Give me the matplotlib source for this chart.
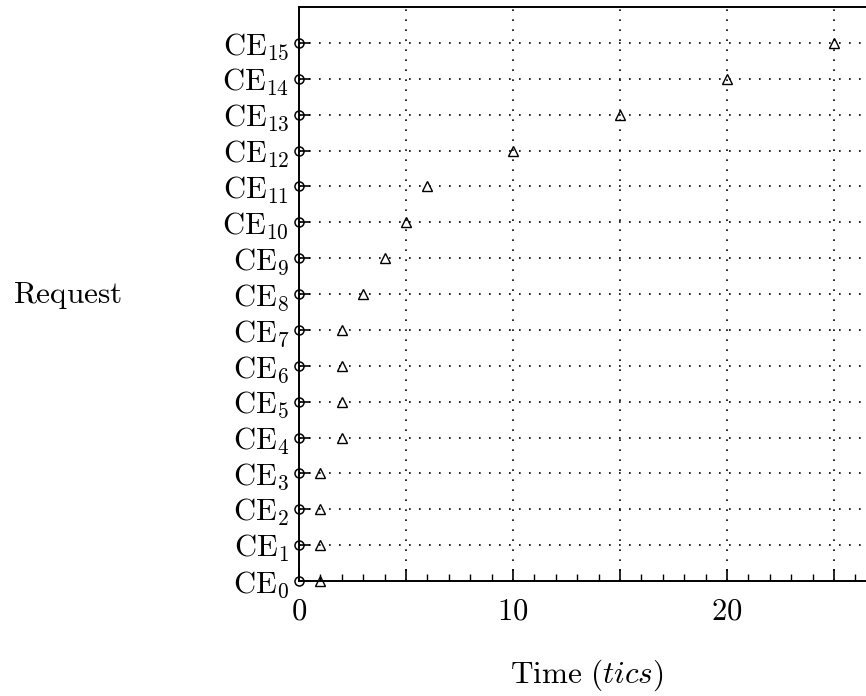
import matplotlib
matplotlib.use('Agg')
import matplotlib.pyplot as plt
from matplotlib.ticker import MultipleLocator, FuncFormatter

plt.rcParams['mathtext.fontset'] = 'cm'

# データ
requests = list(range(16))
request_labels = [r'$\mathrm{CE}_{%d}$' % i for i in requests]
start_time = [0] * 16
finish_time = [1, 1, 1, 1, 2, 2, 2, 2, 3, 4, 5, 6, 10, 15, 20, 25]
x_labels = [0, 10, 20]

fig = plt.figure(figsize=(8.66, 6.96), dpi=100)
# 右側は図の外にはみ出す（元の図は右端で切れている）
ax = fig.add_axes([299 / 866, 115 / 696, 642 / 866, 574 / 696])

ax.plot(start_time, requests, linestyle='none', marker='o', markersize=6.5,
        markerfacecolor='none', markeredgecolor='black', markeredgewidth=1.1,
        clip_on=False, zorder=5)
ax.plot(finish_time, requests, linestyle='none', marker='^', markersize=6.5,
        markerfacecolor='none', markeredgecolor='black', markeredgewidth=1.0,
        clip_on=False, zorder=5)

ax.set_xlim(0, 30)
ax.set_ylim(0, 16)

# x軸の目盛り
ax.xaxis.set_major_locator(MultipleLocator(5))
ax.xaxis.set_minor_locator(MultipleLocator(1))
ax.xaxis.set_major_formatter(
    FuncFormatter(lambda v, p: r'$%d$' % v if int(round(v)) in x_labels else ''))
# y軸の目盛り
ax.set_yticks(requests)
ax.set_yticklabels(request_labels)

ax.tick_params(axis='x', which='major', direction='in', length=9, width=1.2,
               labelsize=22, pad=11, top=False)
ax.tick_params(axis='x', which='minor', direction='in', length=5, width=1.0,
               top=False)
ax.tick_params(axis='y', which='major', direction='in', length=8, width=1.2,
               labelsize=22, pad=7, right=False)

ax.grid(True, which='major', color='black', linestyle=(0, (1, 5)), linewidth=1.2)
for s in ax.spines.values():
    s.set_linewidth(1.4)

fig.text(68 / 866, 1 - 295 / 696, r'$\mathrm{Request}$', fontsize=22.5,
         ha='center', va='center')
fig.text(587 / 866, 1 - 675 / 696, r'$\mathrm{Time}\ (tics)$', fontsize=22.5,
         ha='center', va='center')

fig.savefig('out.png', dpi=100)
